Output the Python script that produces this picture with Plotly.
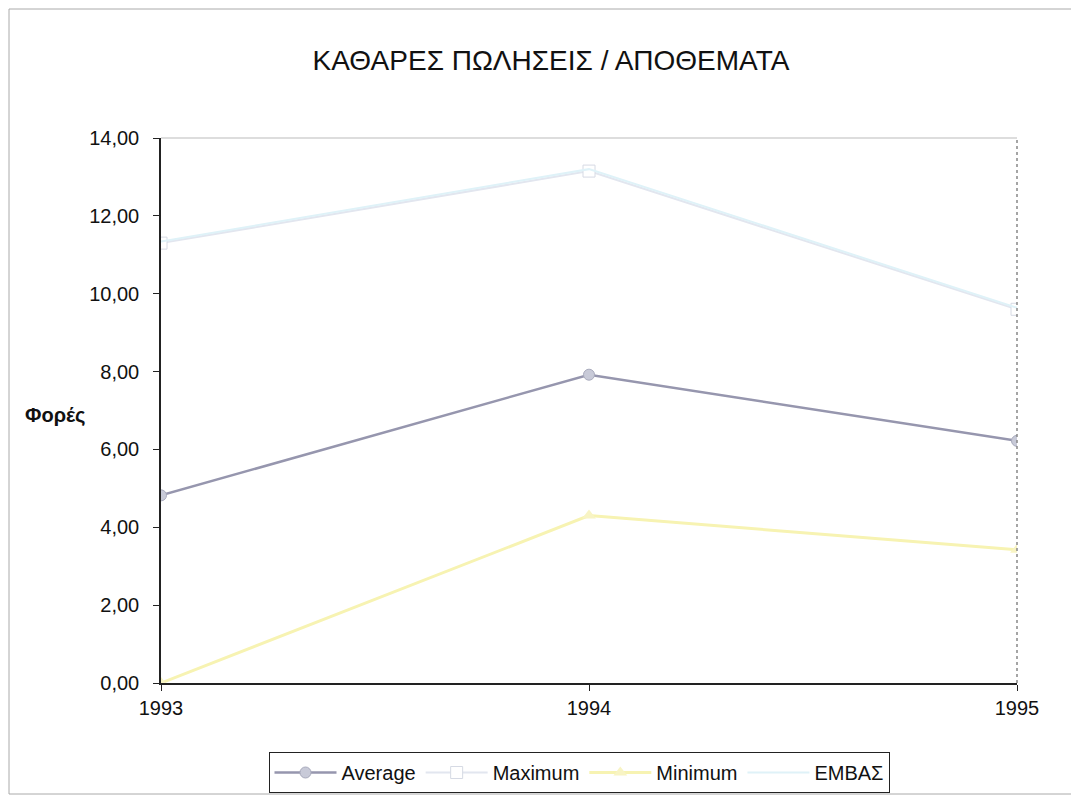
"""Net sales / inventory ratio chart (Excel-style line chart)."""

import plotly.graph_objects as go

YEARS = [1993, 1994, 1995]
AVERAGE = [4.82, 7.92, 6.22]
MAXIMUM = [11.30, 13.15, 9.60]
MINIMUM = [0.00, 4.30, 3.42]
EMBAS = [11.34, 13.20, 9.64]

Y_TICKS = [0, 2, 4, 6, 8, 10, 12, 14]

_FONT = "Liberation Sans, Arial, sans-serif"

# page body has an 8px margin, so the figure is shrunk/offset to match
_OFF = 8
_W, _H = 1079 - _OFF, 798 - _OFF
_L, _R, _T, _B = 161, 1017, 138, 683  # plot area in window pixels
_PW, _PH = _R - _L, _B - _T

fig = go.Figure()

fig.add_trace(
    go.Scatter(
        x=YEARS, y=AVERAGE, name="Average", mode="lines+markers",
        line={"color": "#9696ae", "width": 2.5},
        marker={"symbol": "circle", "size": 11, "color": "#c8cad8",
                "line": {"color": "#a8aabc", "width": 1}},
    )
)
fig.add_trace(
    go.Scatter(
        x=YEARS, y=MAXIMUM, name="Maximum", mode="lines+markers",
        line={"color": "#e2e6ef", "width": 2},
        marker={"symbol": "square", "size": 12, "color": "#ffffff",
                "line": {"color": "#d6dae4", "width": 1}},
    )
)
fig.add_trace(
    go.Scatter(
        x=YEARS, y=MINIMUM, name="Minimum", mode="lines+markers",
        line={"color": "#f7f3b2", "width": 3},
        marker={"symbol": "triangle-up", "size": 12, "color": "#f8f4c4"},
    )
)
fig.add_trace(
    go.Scatter(
        x=YEARS, y=EMBAS, name="ΕΜΒΑΣ", mode="lines",
        line={"color": "#dff2f8", "width": 2},
    )
)

fig.update_layout(
    width=_W,
    height=_H,
    paper_bgcolor="white",
    plot_bgcolor="white",
    separators=",.",
    font={"family": _FONT, "size": 20, "color": "#111111"},
    margin={"l": _L - _OFF, "r": 1079 - _R, "t": _T - _OFF, "b": 798 - _B},
    title={
        "text": "ΚΑΘΑΡΕΣ ΠΩΛΗΣΕΙΣ / ΑΠΟΘΕΜΑΤΑ",
        "x": (551 - _OFF) / _W, "xanchor": "center",
        "y": 1 - (60 - _OFF) / _H, "yanchor": "middle",
        "font": {"family": _FONT, "size": 28, "color": "#111111"},
    },
    xaxis={
        "range": [1993, 1995],
        "tickvals": YEARS,
        "ticktext": [str(y) for y in YEARS],
        "showgrid": False,
        "zeroline": False,
        "showline": True,
        "linecolor": "#222222",
        "linewidth": 1.5,
        "ticks": "outside",
        "ticklen": 6,
        "tickcolor": "#222222",
    },
    yaxis={
        "range": [0, 14],
        "tickvals": Y_TICKS,
        "tickformat": ".2f",
        "showgrid": False,
        "zeroline": False,
        "showline": True,
        "linecolor": "#222222",
        "linewidth": 1.5,
        "ticks": "outside",
        "ticklen": 6,
        "tickcolor": "#222222",
        "ticklabelstandoff": 10,
    },
    showlegend=True,
    legend={
        "orientation": "h",
        "x": (579 - _OFF) / _W, "xref": "container", "xanchor": "center",
        "y": 1 - (752 - _OFF) / _H, "yref": "container", "yanchor": "top",
        "bordercolor": "#222222",
        "borderwidth": 1,
        "font": {"family": _FONT, "size": 20},
        "itemwidth": 62,
        "tracegroupgap": 0,
    },
    annotations=[
        {
            "text": "<b>Φορές</b>",
            "xref": "paper", "yref": "paper",
            "x": (55 - _L) / _PW, "y": (_B - 415) / _PH,
            "xanchor": "center", "yanchor": "middle",
            "showarrow": False,
            "font": {"family": _FONT, "size": 20, "color": "#111111"},
        }
    ],
    shapes=[
        # plot area top and right borders
        {"type": "line", "xref": "paper", "yref": "paper",
         "x0": 0, "x1": 1, "y0": 1, "y1": 1,
         "line": {"color": "#bbbbbb", "width": 1}},
        {"type": "line", "xref": "paper", "yref": "paper",
         "x0": 1, "x1": 1, "y0": 0, "y1": 1,
         "line": {"color": "#888888", "width": 1.5, "dash": "dot"}},
        # outer chart frame
        {"type": "rect", "xref": "paper", "yref": "paper",
         "x0": (9 - _L) / _PW, "x1": (1075 - _L) / _PW,
         "y0": (_B - 794) / _PH, "y1": (_B - 9) / _PH,
         "line": {"color": "#aaaaaa", "width": 1}},
    ],
)

fig.write_html("out.html")
